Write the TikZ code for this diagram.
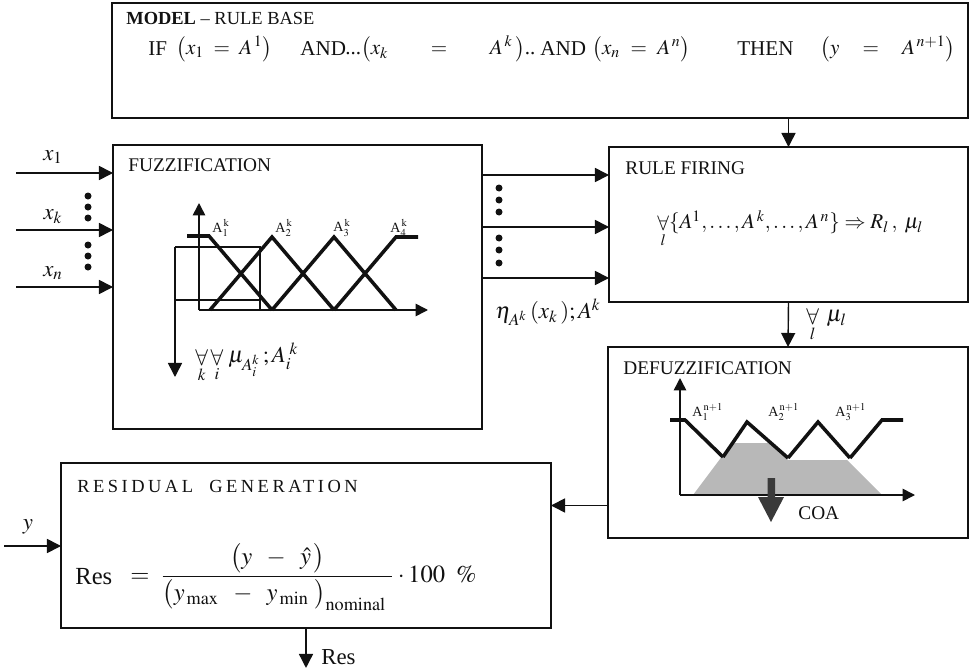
\documentclass[tikz,border=0pt]{standalone}
\usepackage{mathptmx}
\usepackage{amsmath}
\usepackage[no-math]{fontspec}
\setmainfont{Liberation Serif}
\newfontfamily\spacedfont[LetterSpace=19]{Liberation Serif}
\usetikzlibrary{arrows.meta}
\definecolor{diagink}{HTML}{111111}
\definecolor{coashade}{HTML}{B8B8B8}
\definecolor{coadark}{HTML}{3A3A3A}

\begin{document}
\begin{tikzpicture}[
  x=0.02cm,
  y=-0.02cm,
  every node/.style={font=\fontsize{13}{15}\selectfont, diagink, inner sep=0pt},
  block/.style={draw=diagink, line width=1pt, outer sep=0pt},
  title/.style={anchor=west, font=\fontsize{11}{13}\selectfont},
  rulepart/.style={anchor=west, font=\fontsize{12}{14}\selectfont},
  arr/.style={diagink, line width=0.8pt, -{Triangle[length=8pt, width=8pt]}},
  axis/.style={diagink, line width=0.9pt, -{Triangle[length=7pt, width=7pt]}},
  guide/.style={diagink, line width=0.8pt},
  member/.style={diagink, line width=2pt},
  mflabel/.style={anchor=west, font=\fontsize{8}{9}\selectfont},
  vdot/.style={diagink}
]
  % ---- page frame, same proportions as the scanned figure
  \useasboundingbox (0,0) rectangle (970,669);

  % ---- the five blocks -------------------------------------------------
  \node[block, minimum width=17.12cm, minimum height=2.30cm] (model)  at (540,60.5)  {};
  \node[block, minimum width=7.38cm,  minimum height=5.68cm] (fuzz)   at (297.5,287) {};
  \node[block, minimum width=7.18cm,  minimum height=3.10cm] (firing) at (788.5,224.5) {};
  \node[block, minimum width=7.20cm,  minimum height=3.82cm] (defuzz) at (788,442.5) {};
  \node[block, minimum width=9.80cm,  minimum height=3.30cm] (resgen) at (306,545.5) {};

  % ---- model / rule base -------------------------------------------------
  \node[anchor=west, font=\fontsize{10.5}{12}\selectfont] (modeltitle) at (126,18)
    {\textbf{MODEL} -- RULE BASE};
  % the rule is set in pieces, each stretched over its span in the scan
  \node[rulepart] (ifword)   at (148,49) {IF};
  \node[rulepart] (premone)  at (176,49) {$\bigl(x_1\;=\;A^{\,1}\bigr)$};
  \node[rulepart] (andone)   at (300,49) {AND};
  \node[rulepart] (premk)    at (345,49)
    {\makebox[3.80cm][l]{...$\bigl(x_k$\hfill$=$\hfill$A^{\,k}\,\bigr)$..}};
  \node[rulepart] (andtwo)   at (540,49) {AND};
  \node[rulepart] (premn)    at (592,49)
    {\makebox[1.96cm][l]{$\bigl(x_n$\hfill$=$\hfill$A^{\,n}\bigr)$}};
  \node[rulepart] (thenword) at (737,49) {THEN};
  \node[rulepart] (concl)    at (820,49)
    {\makebox[2.70cm][l]{$\bigl(y$\hfill$=$\hfill$A^{\,n+1}\bigr)$}};

  % ---- fuzzification ---------------------------------------------------
  \node[title] (fuzztitle) at (128,165) {FUZZIFICATION};
  \coordinate (in1) at (16,173);
  \coordinate (ink) at (16,230);
  \coordinate (inn) at (16,287);
  \draw[arr] (in1) -- (in1 -| fuzz.west);
  \draw[arr] (ink) -- (ink -| fuzz.west);
  \draw[arr] (inn) -- (inn -| fuzz.west);
  \node (xone) at (53,157) {$x_1$};
  \node (xkay) at (53,217) {$x_k$};
  \node (xenn) at (53,273) {$x_n$};
  \foreach \y in {196,207,218,245,256,267}
    \fill[vdot] (88,\y) circle[radius=0.07cm];

  % input window of the membership plot
  \draw[guide] (260,310) -- (260,247) -- (175,247);
  \draw[guide] (175,300) -- (260,300);
  \draw[arr, line width=0.9pt] (175,247) -- (175,377);
  \draw[axis] (199,310) -- (199,203);
  \draw[axis] (199,310) -- (428,310);
  \draw[member] (187,236) -- (209,236) -- (272,310);
  \draw[member] (210,310) -- (272,237) -- (334,310);
  \draw[member] (272,310) -- (334,237) -- (396,310);
  \draw[member] (334,310) -- (396,237) -- (418,237);
  \node[mflabel] (fa1) at (212,228) {A$_1^{\,\mathrm{k}}$};
  \node[mflabel] (fa2) at (275,228) {A$_2^{\,\mathrm{k}}$};
  \node[mflabel] (fa3) at (333,228) {A$_3^{\,\mathrm{k}}$};
  \node[mflabel] (fa4) at (390,228) {A$_4^{\,\mathrm{k}}$};
  \node[anchor=west] (fuzzout) at (195,363)
    {$\mathop{\forall}\limits_{k}\mathop{\forall}\limits_{i}\,\mu_{A_i^k}\,;A_i^{\;k}$};

  % ---- rule firing -----------------------------------------------------
  \node[title] (firetitle) at (625,168) {RULE FIRING};
  \coordinate (fire1) at ([yshift=0.99cm]firing.west);
  \coordinate (firek) at ([yshift=-0.05cm]firing.west);
  \coordinate (firen) at ([yshift=-1.07cm]firing.west);
  \draw[arr] (fire1 -| fuzz.east) -- (fire1);
  \draw[arr] (firek -| fuzz.east) -- (firek);
  \draw[arr] (firen -| fuzz.east) -- (firen);
  \foreach \y in {188,200,212,238,250,263}
    \fill[vdot] (499,\y) circle[radius=0.07cm];
  \node[anchor=west] (eta) at (495,312) {$\eta_{A^k}\,(x_k\,);A^k$};
  \node[anchor=west, font=\fontsize{12}{14}\selectfont] (firerule) at (657,229)
    {$\mathop{\forall}\limits_{l}\{A^1,\ldots,A^{\,k},\ldots,A^{\,n}\}\Rightarrow R_l\,,\;\mu_l$};
  \draw[arr] (model.south -| firing.north) -- (firing.north);
  \draw[arr] (firing.south) -- (defuzz.north);
  \node[anchor=west] (mulabel) at (806,325) {$\mathop{\forall}\limits_{l}\;\mu_l$};

  % ---- defuzzification -------------------------------------------------
  \node[title] (defuzztitle) at (623,368) {DEFUZZIFICATION};
  \fill[coashade] (693,495) -- (732,443) -- (771,443) -- (788,460)
    -- (847,460) -- (882,495) -- cycle;
  \draw[axis] (680,495) -- (680,378);
  \draw[axis] (680,495) -- (915,495);
  \draw[member] (670,420) -- (685,420) -- (723,457);
  \draw[member] (723,457) -- (747,422) -- (788,458);
  \draw[member] (788,458) -- (818,422) -- (850,458);
  \draw[member] (850,458) -- (882,420) -- (903,420);
  \node[mflabel] (da1) at (692,412) {A$_1^{\,\mathrm{n+1}}$};
  \node[mflabel] (da2) at (768,412) {A$_2^{\,\mathrm{n+1}}$};
  \node[mflabel] (da3) at (835,412) {A$_3^{\,\mathrm{n+1}}$};
  \fill[coadark] (767.5,478) -- (775,478) -- (775,497) -- (784,497)
    -- (771,522) -- (758,497) -- (767.5,497) -- cycle;
  \node[anchor=west, font=\fontsize{11}{13}\selectfont] (coa) at (798,513) {COA};

  % ---- residual generation ---------------------------------------------
  \node[anchor=west, font=\spacedfont\fontsize{10.5}{12}\selectfont] (restitle) at (77,486)
    {RESIDUAL\ \ GENERATION};
  \coordinate (yin) at (4,546);
  \draw[arr] (yin) -- (yin -| resgen.west);
  \node (ylabel) at (28,527) {$y$};
  \coordinate (coaback) at ([yshift=-1.26cm]defuzz.west);
  \draw[arr] (coaback) -- (coaback -| resgen.east);
  \node[anchor=west, font=\fontsize{14}{16}\selectfont] (resword) at (75,577) {Res};
  \node[anchor=west, font=\fontsize{14}{16}\selectfont] (resform) at (130,577)
    {$=\;\dfrac{\makebox[4.6cm]{$\bigl(y\;\;-\;\;\hat{y}\,\bigr)$}}%
      {\makebox[4.6cm][l]{$\bigl(y_{\,\mathrm{max}}\;\;-\;\;y_{\,\mathrm{min}}\;\bigr)_{\mathrm{nominal}}$}}\cdot 100\;\;\%$};
  \coordinate (resout) at ([yshift=-0.8cm]resgen.south);
  \draw[arr] (resgen.south) -- (resout);
  \node[anchor=west] (reslabel) at ([xshift=0.3cm,yshift=0.22cm]resout) {Res};
\end{tikzpicture}
\end{document}
